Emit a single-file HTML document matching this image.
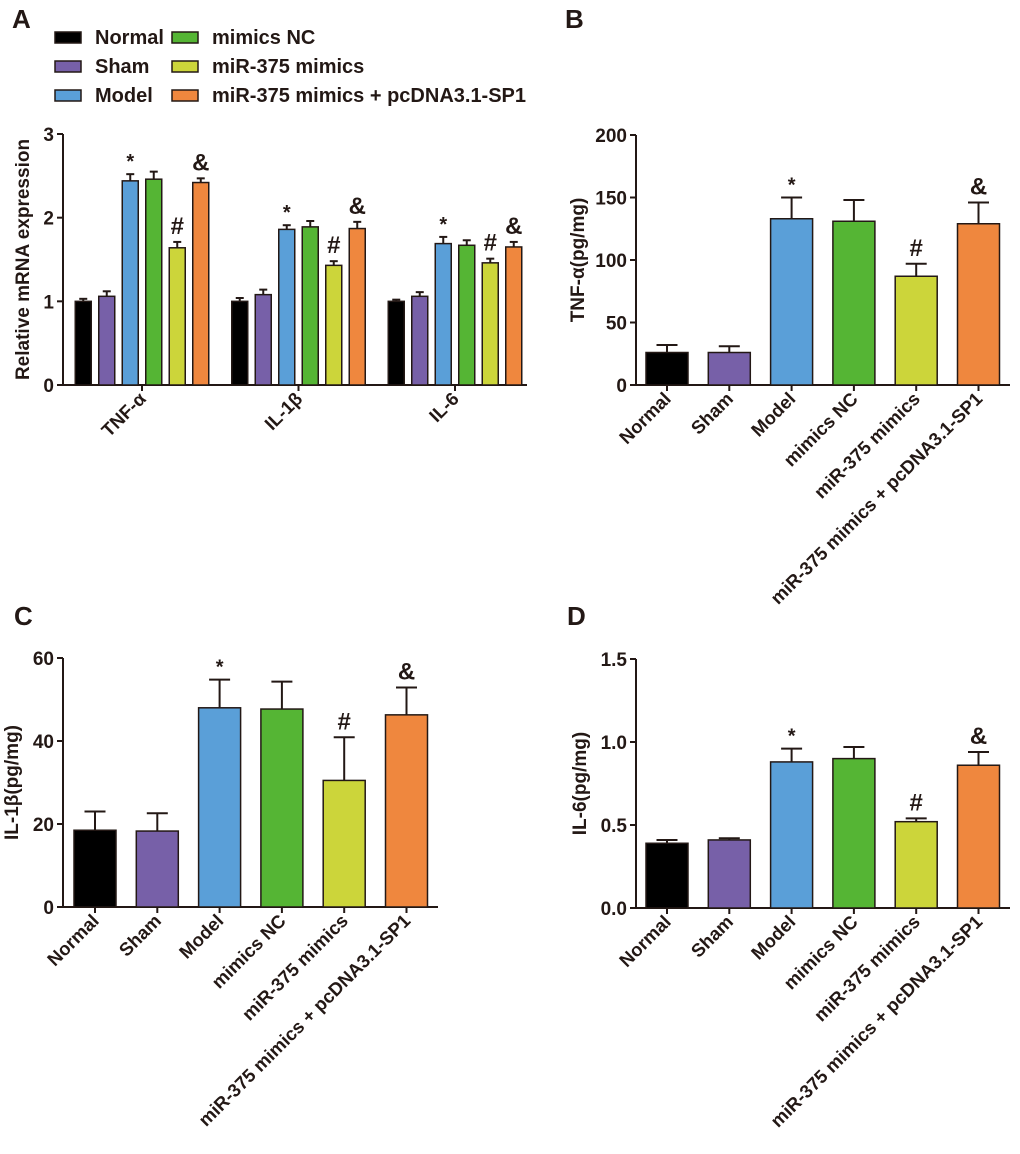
<!DOCTYPE html>
<html><head><meta charset="utf-8"><style>
body{margin:0;background:#fff;}
svg text{font-family:"Liberation Sans",Arial,sans-serif;font-weight:bold;fill:#231815;}
</style></head><body>
<svg id="fig" width="1020" height="1149" viewBox="0 0 1020 1149" xmlns="http://www.w3.org/2000/svg"></svg>
<script>
const groups = ["Normal","Sham","Model","mimics NC","miR-375 mimics","miR-375 mimics + pcDNA3.1-SP1"];
const colors = ["#000000","#7760a8","#5a9fd8","#55b534","#ccd53a","#ef873e"];
const genesA = ["TNF-α","IL-1β","IL-6"];
const valsA_TNF = [1.0,1.06,2.44,2.46,1.64,2.42];
const errA_TNF = [0.03,0.06,0.08,0.09,0.07,0.05];
const valsA_IL1 = [1.0,1.08,1.86,1.89,1.43,1.87];
const errA_IL1 = [0.04,0.06,0.05,0.07,0.05,0.08];
const valsA_IL6 = [1.0,1.06,1.69,1.67,1.46,1.65];
const errA_IL6 = [0.02,0.05,0.08,0.06,0.05,0.06];
const ticksA = [0,1,2,3];
const valsB = [26,26,133,131,87,129];
const errB = [6,5,17,17,10,17];
const ticksB = [0,50,100,150,200];
const valsC = [18.5,18.3,48,47.7,30.5,46.3];
const errC = [4.5,4.3,6.8,6.6,10.4,6.6];
const ticksC = [0,20,40,60];
const valsD = [0.39,0.41,0.88,0.90,0.52,0.86];
const errD = [0.02,0.01,0.08,0.07,0.02,0.08];
const ticksD = ["0.0","0.5","1.0","1.5"];
const marks = ["","","*","","#","&"];

const svg = document.getElementById('fig');
const NS = "http://www.w3.org/2000/svg";
function mk(tag, attrs, parent){const e=document.createElementNS(NS,tag);for(const k in attrs)e.setAttribute(k,attrs[k]);(parent||svg).appendChild(e);return e;}
function txt(s,attrs,parent){const e=mk('text',attrs,parent);e.textContent=s;return e;}

function axes(g,x0,x1,yTop,yBot,ticks,max,title,titleX){
  const ys=v=>yBot-(v/max)*(yBot-yTop);
  const ax=mk('line',{x1:x0,y1:yTop,x2:x0,y2:yBot,stroke:'#231815','stroke-width':2},g);
  
  const bx=mk('line',{x1:x0-1,y1:yBot,x2:x1,y2:yBot,stroke:'#231815','stroke-width':2},g);
  
  ticks.forEach(t=>{const v=parseFloat(t);const y=ys(v);
    mk('line',{x1:x0-6,y1:y,x2:x0,y2:y,stroke:'#231815','stroke-width':2},g);
    const tl=txt(String(t),{x:x0-9,y:y+7,'text-anchor':'end','font-size':19},g);
    });
  const ty=(yTop+yBot)/2;
  const tt=txt(title,{x:titleX,y:ty,'text-anchor':'middle','font-size':19,transform:`rotate(-90 ${titleX} ${ty})`},g);
  
  return ys;
}
function bar(g,cx,w,v,e,ys,col,mark,yBot){
  const y=ys(v);
  mk('line',{x1:cx,y1:y,x2:cx,y2:ys(v+e),stroke:'#231815','stroke-width':2},g);
  mk('line',{x1:cx-w*0.25,y1:ys(v+e),x2:cx+w*0.25,y2:ys(v+e),stroke:'#231815','stroke-width':2},g);
  const r=mk('rect',{x:cx-w/2,y:y,width:w,height:yBot-y,fill:col,stroke:'#231815','stroke-width':1.5},g);
  
  if(mark){const m=txt(mark,{x:cx,y:ys(v+e)-(mark==='*'?6:8),'text-anchor':'middle','font-size':mark==='*'?20:24,'font-weight':mark==='*'?'bold':'normal'},g);
    }
}
function panel(name,x0,x1,yTop,yBot,ticks,max,title,titleX,vals,errs,c0,step,w){
  const g=mk('g',{});
  const ys=axes(g,x0,x1,yTop,yBot,ticks,max,title,titleX);
  vals.forEach((v,i)=>{const cx=c0+i*step;bar(g,cx,w,v,errs[i],ys,colors[i],marks[i],yBot);
    mk('line',{x1:cx,y1:yBot,x2:cx,y2:yBot+6,stroke:'#231815','stroke-width':2},g);
    const lx=cx+5,ly=yBot+15;
    const l=txt(groups[i],{x:lx,y:ly,'text-anchor':'end','font-size':18.5,transform:`rotate(-45 ${lx} ${ly})`},g);
    });
}
// Panel A
(function(){
  const g=mk('g',{});
  const ys=axes(g,63,527,134,385,ticksA,3,'Relative  mRNA expression',29);
  const sets=[[valsA_TNF,errA_TNF],[valsA_IL1,errA_IL1],[valsA_IL6,errA_IL6]];
  sets.forEach((s,gi)=>{const gc=142+gi*156.5;
    s[0].forEach((v,i)=>bar(g,gc+(i-2.5)*23.5,16,v,s[1][i],ys,colors[i],marks[i],385));
    mk('line',{x1:gc,y1:385,x2:gc,y2:391,stroke:'#231815','stroke-width':2},g);
    const lx=gc+5,ly=400;
    const l=txt(genesA[gi],{x:lx,y:ly,'text-anchor':'end','font-size':18.5,transform:`rotate(-45 ${lx} ${ly})`},g);
    });
  // legend
  const pos=[[55,37],[55,66],[55,95],[172,37],[172,66],[172,95]];
  groups.forEach((n,i)=>{const [x,y]=pos[i];
    const r=mk('rect',{x:x,y:y-5,width:26,height:11,fill:colors[i],stroke:'#231815','stroke-width':1.5},g);
    
    const t=txt(n,{x:x+40,y:y+7,'font-size':20},g);
    });
})();
panel('panel-b',636,1010,135,385,ticksB,200,'TNF-α(pg/mg)',584,valsB,errB,667,62.3,42);
panel('panel-c',63,438,658,907,ticksC,60,'IL-1β(pg/mg)',18,valsC,errC,95,62.3,42);
panel('panel-d',636,1010,659,908,ticksD,1.5,'IL-6(pg/mg)',586,valsD,errD,667,62.3,42);
[['A',12,28],['B',565,28],['C',14,625],['D',567,625]].forEach(([s,x,y])=>{
  const t=txt(s,{x:x,y:y,'font-size':26});
  });
</script>
</body></html>
